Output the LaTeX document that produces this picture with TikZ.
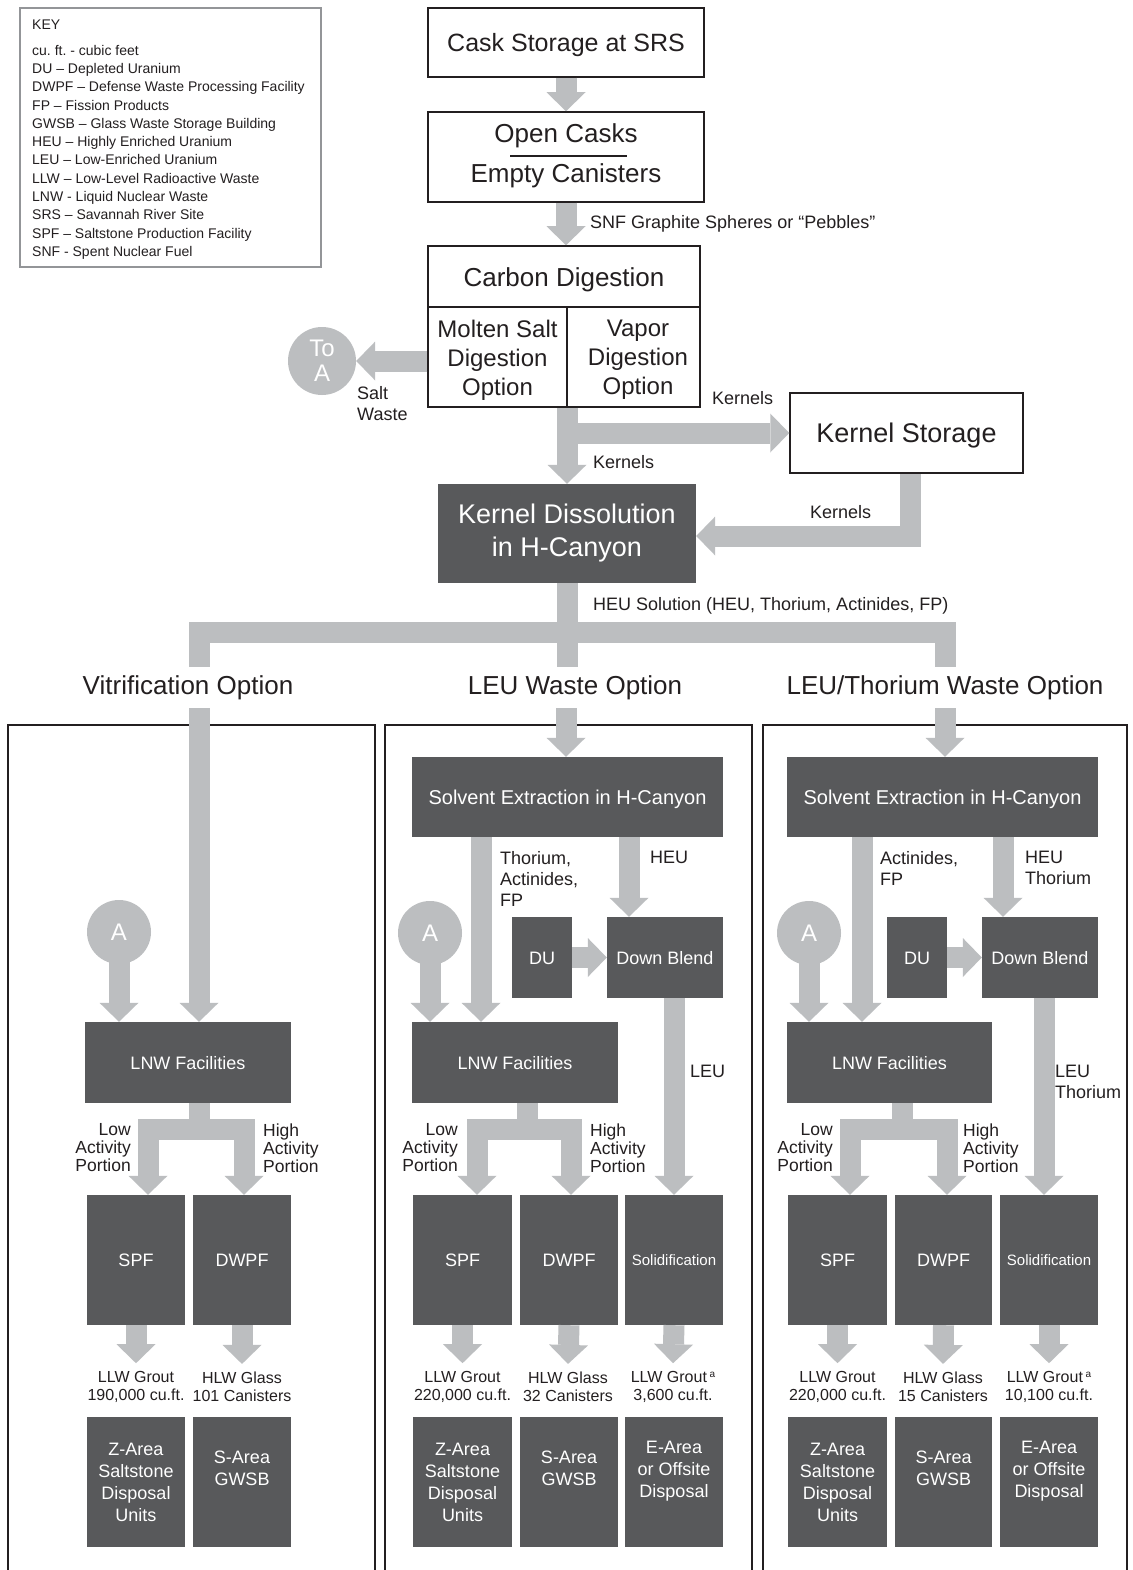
\documentclass[tikz,border=0pt]{standalone}
\usepackage{fontspec}
\setmainfont{Liberation Sans}
\usetikzlibrary{arrows.meta,calc}
\definecolor{arrowgray}{HTML}{BCBEC0}
\definecolor{darkbox}{HTML}{58595B}
\definecolor{ink}{HTML}{231F20}
\definecolor{keyborder}{HTML}{939598}
\newcommand\fsz[2]{\fontsize{#1pt}{#2pt}\selectfont}
\newcommand\supa{\,\raisebox{5pt}{\fsz{10}{10}a}}
\frenchspacing
\begin{document}
\begin{tikzpicture}[x=1pt,y=-1pt,
  fat/.style={draw=arrowgray, line width=21pt, line join=miter, -{Triangle[width=39pt,length=19pt,line width=0pt]}},
  fatline/.style={draw=arrowgray, line width=21pt, line join=miter},
  wbox/.style={draw=ink, line width=1.5pt, fill=white, text=ink, inner sep=0pt, align=center},
  dbox/.style={fill=darkbox, text=white, inner sep=0pt, align=center},
  sz/.style 2 args={minimum width=#1pt, minimum height=#2pt},
  txt/.style={text=ink, inner sep=0pt},
  cap/.style={text height=#1pt, text depth=0pt},
  circ/.style={circle, fill=arrowgray, text=white, inner sep=0pt, align=center, minimum size=#1pt},
  f14/.style={font=\fsz{14}{18.27}},
  f16/.style={font=\fsz{16}{18}},
  f17/.style={font=\fsz{17.5}{18}},
  f18/.style={font=\fsz{18}{21}},
  f18b/.style={font=\fsz{18}{22}},
  f26/.style={font=\fsz{26}{30}},
]
\useasboundingbox (0,0) rectangle (1132,1570);
\fill[white] (0,0) rectangle (1132,1570);

% ---------------- key ----------------
\draw[keyborder, line width=1.5pt] (20,8) rectangle (321,267);
\node[txt, f14, anchor=west, cap=10] (keyt) at (32,25) {KEY};
\node[txt, f14, anchor=north west, align=left] (keyl) at (32,45) {cu. ft. - cubic feet\\
DU – Depleted Uranium\\
DWPF – Defense Waste Processing Facility\\
FP – Fission Products\\
GWSB – Glass Waste Storage Building\\
HEU – Highly Enriched Uranium\\
LEU – Low-Enriched Uranium\\
LLW – Low-Level Radioactive Waste\\
LNW - Liquid Nuclear Waste\\
SRS – Savannah River Site\\
SPF – Saltstone Production Facility\\
SNF - Spent Nuclear Fuel};

% ---------------- top chain ----------------
\node[wbox, sz={276}{69}, font=\fsz{25}{30}, cap=18] (cask) at (566,42.5) {Cask Storage at SRS};
\node[wbox, sz={276}{90}] (open) at (566,157) {};
\node[txt, f26, cap=19] (oc) at (566,133) {Open Casks};
\node[txt, f26, cap=19] (ec) at (566,173) {Empty Canisters};
\draw[ink, line width=1.5pt] (510,156) -- (627,156);

\node[wbox, sz={272}{61}, f26, cap=19] (cdtop) at (564,276.5) {Carbon Digestion};
\node[wbox, sz={139}{100}] (ms) at (497.5,357) {};
\node[wbox, sz={133}{100}] (vd) at (633.5,357) {};
\node[txt, font=\fsz{24}{29}, align=center] (mst) at (497.5,360) {Molten Salt\\Digestion\\Option};
\node[txt, font=\fsz{24}{29}, align=center] (vdt) at (638,360) {Vapor\\Digestion\\Option};
\node[circ=68, font=\fsz{24}{25}] (toa) at (322,361) {To\\A};

\node[wbox, sz={233}{80}, font=\fsz{27}{30}, cap=19.5] (ks) at (906.5,433) {Kernel Storage};
\node[dbox, sz={258}{99}, font=\fsz{27}{33}] (kd) at (567,533.5) {Kernel Dissolution\\in H-Canyon};

\node[txt, f18, anchor=west, cap=13] (snf) at (590,222) {SNF Graphite Spheres or “Pebbles”};
\node[txt, f18, anchor=west, align=left] (salt) at (357,404) {Salt\\Waste};
\node[txt, f18, anchor=west, cap=13] (kn1) at (712,398) {Kernels};
\node[txt, f18, anchor=west, cap=13] (kn2) at (593,462) {Kernels};
\node[txt, f18, anchor=west, cap=13] (kn3) at (810,512) {Kernels};
\node[txt, f18, anchor=west, cap=13] (heus) at (593,604) {HEU Solution (HEU, Thorium, Actinides, FP)};

\node[txt, f26, cap=19] (t1) at (188,685) {Vitrification Option};
\node[txt, f26, cap=19] (t2) at (575,685) {LEU Waste Option};
\node[txt, f26, cap=19] (t3) at (945,685) {LEU/Thorium Waste Option};

% ---------------- panels ----------------
\draw[ink, line width=1.5pt] (8,725) rectangle (375,1576);
\draw[ink, line width=1.5pt] (385,725) rectangle (752,1576);
\draw[ink, line width=1.5pt] (763,725) rectangle (1127,1576);

% panel 1
\node[circ=64, font=\fsz{24}{25}, cap=17] (A1) at (119,932) {A};
\node[dbox, sz={206}{81}, f18, cap=13] (lnw1) at (188,1062.5) {LNW Facilities};
\node[dbox, sz={98}{130}, f18, cap=13] (spf1) at (136,1260) {SPF};
\node[dbox, sz={98}{130}, f18, cap=13] (dwpf1) at (242,1260) {DWPF};
\node[dbox, sz={98}{130}, f18b] (z1) at (136,1482) {Z-Area\\Saltstone\\Disposal\\Units};
\node[dbox, sz={98}{130}, f18b] (s1) at (242,1482) {S-Area\\GWSB\\[6pt]};
\node[txt, f17, anchor=east, align=right] (lo1) at (131,1148) {Low\\Activity\\Portion};
\node[txt, f17, anchor=west, align=left] (hi1) at (263,1148) {High\\Activity\\Portion};
\node[txt, f16, align=center] (o1a) at (136,1387) {LLW Grout\\190,000 cu.ft.};
\node[txt, f16, align=center] (o1b) at (242,1387) {HLW Glass\\101 Canisters};

% panel 2
\node[dbox, sz={311}{80}, font=\fsz{20}{24}, cap=14.5] (se2) at (567.5,797) {Solvent Extraction in H-Canyon};
\node[circ=64, font=\fsz{24}{25}, cap=17] (A2) at (430,933) {A};
\node[dbox, sz={60}{81}, f18, cap=13] (du2) at (542,957.5) {DU};
\node[dbox, sz={116}{81}, f18, cap=13] (db2) at (665,957.5) {Down Blend};
\node[dbox, sz={206}{81}, f18, cap=13] (lnw2) at (515,1062.5) {LNW Facilities};
\node[dbox, sz={99}{130}, f18, cap=13] (spf2) at (462.5,1260) {SPF};
\node[dbox, sz={98}{130}, f18, cap=13] (dwpf2) at (569,1260) {DWPF};
\node[dbox, sz={98}{130}, font=\fsz{15}{18}, cap=11] (sol2) at (674,1260) {Solidification};
\node[dbox, sz={99}{130}, f18b] (z2) at (462.5,1482) {Z-Area\\Saltstone\\Disposal\\Units};
\node[dbox, sz={98}{130}, f18b] (s2) at (569,1482) {S-Area\\GWSB\\[6pt]};
\node[dbox, sz={98}{130}, f18b] (e2) at (674,1482) {E-Area\\or Offsite\\Disposal\\[4pt]};
\node[txt, f18, anchor=west, align=left] (th2) at (500,879) {Thorium,\\Actinides,\\FP};
\node[txt, f18, anchor=west, cap=13] (heu2) at (650,857) {HEU};
\node[txt, f18, anchor=west, cap=13] (leu2) at (690,1071) {LEU};
\node[txt, f17, anchor=east, align=right] (lo2) at (458,1148) {Low\\Activity\\Portion};
\node[txt, f17, anchor=west, align=left] (hi2) at (590,1148) {High\\Activity\\Portion};
\node[txt, f16, align=center] (o2a) at (462.5,1387) {LLW Grout\\220,000 cu.ft.};
\node[txt, f16, align=center] (o2b) at (568,1387) {HLW Glass\\32 Canisters};
\node[txt, f16, align=center] (o2c) at (673,1387) {LLW Grout\supa\\3,600 cu.ft.};

% panel 3
\node[dbox, sz={311}{80}, font=\fsz{20}{24}, cap=14.5] (se3) at (942.5,797) {Solvent Extraction in H-Canyon};
\node[circ=64, font=\fsz{24}{25}, cap=17] (A3) at (809,933) {A};
\node[dbox, sz={60}{81}, f18, cap=13] (du3) at (917,957.5) {DU};
\node[dbox, sz={116}{81}, f18, cap=13] (db3) at (1040,957.5) {Down Blend};
\node[dbox, sz={205}{81}, f18, cap=13] (lnw3) at (889.5,1062.5) {LNW Facilities};
\node[dbox, sz={99}{130}, f18, cap=13] (spf3) at (837.5,1260) {SPF};
\node[dbox, sz={97}{130}, f18, cap=13] (dwpf3) at (943.5,1260) {DWPF};
\node[dbox, sz={98}{130}, font=\fsz{15}{18}, cap=11] (sol3) at (1049,1260) {Solidification};
\node[dbox, sz={99}{130}, f18b] (z3) at (837.5,1482) {Z-Area\\Saltstone\\Disposal\\Units};
\node[dbox, sz={97}{130}, f18b] (s3) at (943.5,1482) {S-Area\\GWSB\\[6pt]};
\node[dbox, sz={98}{130}, f18b] (e3) at (1049,1482) {E-Area\\or Offsite\\Disposal\\[4pt]};
\node[txt, f18, anchor=west, align=left] (ac3) at (880,868) {Actinides,\\FP};
\node[txt, f18, anchor=west, align=left] (heu3) at (1025,868) {HEU\\Thorium};
\node[txt, f18, anchor=west, align=left] (leu3) at (1055,1082) {LEU\\Thorium};
\node[txt, f17, anchor=east, align=right] (lo3) at (833,1148) {Low\\Activity\\Portion};
\node[txt, f17, anchor=west, align=left] (hi3) at (963,1148) {High\\Activity\\Portion};
\node[txt, f16, align=center] (o3a) at (837.5,1387) {LLW Grout\\220,000 cu.ft.};
\node[txt, f16, align=center] (o3b) at (943,1387) {HLW Glass\\15 Canisters};
\node[txt, f16, align=center] (o3c) at (1049,1387) {LLW Grout\supa\\10,100 cu.ft.};

% ---------------- coordinates ----------------
\coordinate (b1) at (199,632);
\coordinate (b3) at (945,632);
\coordinate (e1) at (199,667);
\coordinate (e2) at (567,667);
\coordinate (e3) at (945,667);
\coordinate (p1) at (199,708);
\coordinate (p2) at (566,708);
\coordinate (p3) at (945,708);
\coordinate (kdin) at ($(kd.east)+(0,2.5)$);
\coordinate (ksx) at (910,0);
\coordinate (c2th) at (481,0);
\coordinate (c2heu) at (629,0);
\coordinate (c3ac) at (862,0);
\coordinate (c3heu) at (1003,0);
\coordinate (c3leu) at (1044,0);
\coordinate (m1) at (199,1129);
\coordinate (l1) at (148,1129);
\coordinate (r1) at (244,1129);
\coordinate (m2) at (527,1129);
\coordinate (l2) at (477,1129);
\coordinate (r2) at (571,1129);
\coordinate (m3) at (902,1129);
\coordinate (l3) at (850,1129);
\coordinate (r3) at (947,1129);

% ---------------- arrows ----------------
\draw[fat] (cask.south) -- (open.north);
\draw[fat] (open.south) -- (open.south |- cdtop.north);
\draw[fat] (toa -| ms.west) -- (toa.east);
\draw[fat] (kd.north |- ms.south) -- (kd.north);
\draw[fat] (kd.north |- ks.west) -- (ks.west);
\draw[fat] (ks.south -| ksx) |- (kdin);

\draw[fatline] (kd.south) |- (b1) -- (e1);
\draw[fatline] (kd.south) |- (b3) -- (e3);
\draw[fatline] (kd.south) -- (e2);

\draw[fat] (p1) -- (lnw1.north -| p1);
\draw[fat] (p2) -- (se2.north -| p2);
\draw[fat] (p3) -- (se3.north -| p3);

% panel 1
\draw[fat] ([yshift=3pt]A1.south) -- (lnw1.north -| A1);
\draw[fat] (lnw1.south -| m1) |- (l1) -- (spf1.north -| l1);
\draw[fat] (lnw1.south -| m1) |- (r1) -- (dwpf1.north -| r1);
\draw[fat] (spf1.south) -- ([yshift=8pt]o1a.north);
\draw[fat] (dwpf1.south) -- ([yshift=8pt]o1b.north);

% panel 2
\draw[fat] ([yshift=3pt]A2.south) -- (lnw2.north -| A2);
\draw[fat] (se2.south -| c2th) -- (lnw2.north -| c2th);
\draw[fat] (se2.south -| c2heu) -- (db2.north -| c2heu);
\draw[fat] (du2.east) -- (db2.west);
\draw[fat] (db2.south -| sol2.north) -- (sol2.north);
\draw[fat] (lnw2.south -| m2) |- (l2) -- (spf2.north -| l2);
\draw[fat] (lnw2.south -| m2) |- (r2) -- (dwpf2.north -| r2);
\draw[fat] (spf2.south) -- ([yshift=8pt]o2a.north);
\draw[fat] (dwpf2.south) -- ([yshift=8pt]o2b.north);
\draw[fat] (sol2.south) -- ([yshift=8pt]o2c.north);

% panel 3
\draw[fat] ([yshift=3pt]A3.south) -- (lnw3.north -| A3);
\draw[fat] (se3.south -| c3ac) -- (lnw3.north -| c3ac);
\draw[fat] (se3.south -| c3heu) -- (db3.north -| c3heu);
\draw[fat] (du3.east) -- (db3.west);
\draw[fat] (db3.south -| c3leu) -- (sol3.north -| c3leu);
\draw[fat] (lnw3.south -| m3) |- (l3) -- (spf3.north -| l3);
\draw[fat] (lnw3.south -| m3) |- (r3) -- (dwpf3.north -| r3);
\draw[fat] (spf3.south) -- ([yshift=8pt]o3a.north);
\draw[fat] (dwpf3.south) -- ([yshift=8pt]o3b.north);
\draw[fat] (sol3.south) -- ([yshift=8pt]o3c.north);
\end{tikzpicture}
\end{document}
